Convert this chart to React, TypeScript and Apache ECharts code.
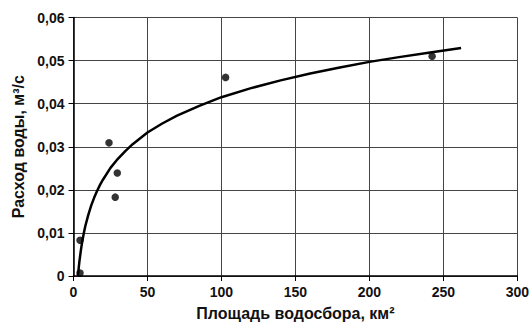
import React, { useEffect, useRef } from "react";
import * as echarts from "echarts";

const xTicks = [0, 50, 100, 150, 200, 250, 300];
const yTicks = [0, 0.01, 0.02, 0.03, 0.04, 0.05, 0.06];

// observed points: catchment area (km²), discharge (m³/s)
const pointArea = [4.4, 4.4, 24, 28.2, 29.6, 102.8, 242.4];
const pointFlow = [0.0007, 0.0083, 0.0309, 0.0183, 0.0239, 0.0461, 0.051];

// trend curve
const curveArea = [3, 3.5, 4, 5, 6, 7, 8, 10, 12, 14, 16, 18, 20, 25, 30, 35, 40, 50, 60, 70, 85, 100, 120, 140, 160, 180, 200, 220, 240, 262];
const curveFlow = [0.0, 0.0018, 0.0034, 0.006, 0.0082, 0.01, 0.0116, 0.0142, 0.0164, 0.0182, 0.0198, 0.0212, 0.0224, 0.0251, 0.0272, 0.029, 0.0306, 0.0333, 0.0354, 0.0372, 0.0395, 0.0415, 0.0436, 0.0454, 0.047, 0.0484, 0.0497, 0.0508, 0.0518, 0.0529];

const fmt = (v: number) => (v === 0 ? "0" : v.toFixed(2).replace(".", ","));

export default function App() {
  const ref = useRef<HTMLDivElement>(null);
  useEffect(() => {
    if (!ref.current) return;
    const chart = echarts.init(ref.current, null, { renderer: "svg" });
    const font = "Liberation Sans, Arial, sans-serif";
    chart.setOption({
      animation: false,
      backgroundColor: "#ffffff",
      grid: { left: 73.5, right: 14, top: 17.5, bottom: 47, containLabel: false },
      xAxis: {
        type: "value",
        min: xTicks[0],
        max: xTicks[xTicks.length - 1],
        interval: 50,
        name: "Площадь водосбора, км²",
        nameLocation: "middle",
        nameGap: 29,
        nameTextStyle: { fontFamily: font, fontSize: 16, fontWeight: "bold", color: "#111" },
        axisLine: { show: true, lineStyle: { color: "#000", width: 1.5 } },
        axisTick: { show: true, length: 5, lineStyle: { color: "#000" } },
        axisLabel: { fontFamily: font, fontSize: 14, fontWeight: "bold", color: "#111", margin: 9 },
        splitLine: { show: true, lineStyle: { color: "#444", width: 1 } },
      },
      yAxis: {
        type: "value",
        min: yTicks[0],
        max: yTicks[yTicks.length - 1],
        interval: 0.01,
        name: "Расход воды, м³/с",
        nameLocation: "middle",
        nameGap: 46,
        nameTextStyle: { fontFamily: font, fontSize: 16, fontWeight: "bold", color: "#111" },
        axisLine: { show: true, lineStyle: { color: "#000", width: 1.5 } },
        axisTick: { show: true, length: 5, lineStyle: { color: "#000" } },
        axisLabel: { fontFamily: font, fontSize: 14, fontWeight: "bold", color: "#111", margin: 9, formatter: fmt },
        splitLine: { show: true, lineStyle: { color: "#444", width: 1 } },
      },
      series: [
        {
          type: "line",
          data: curveArea.map((x, i) => [x, curveFlow[i]]),
          smooth: false,
          showSymbol: false,
          symbol: "none",
          lineStyle: { color: "#000", width: 2.5, join: "round" },
          z: 3,
        },
        {
          type: "scatter",
          data: pointArea.map((x, i) => [x, pointFlow[i]]),
          symbol: "circle",
          symbolSize: 7.5,
          itemStyle: { color: "#000" },
          z: 4,
        },
      ],
    });
    return () => chart.dispose();
  }, []);
  return <div ref={ref} style={{ width: 532, height: 326, position: "absolute", left: 0, top: 0 }} />;
}
